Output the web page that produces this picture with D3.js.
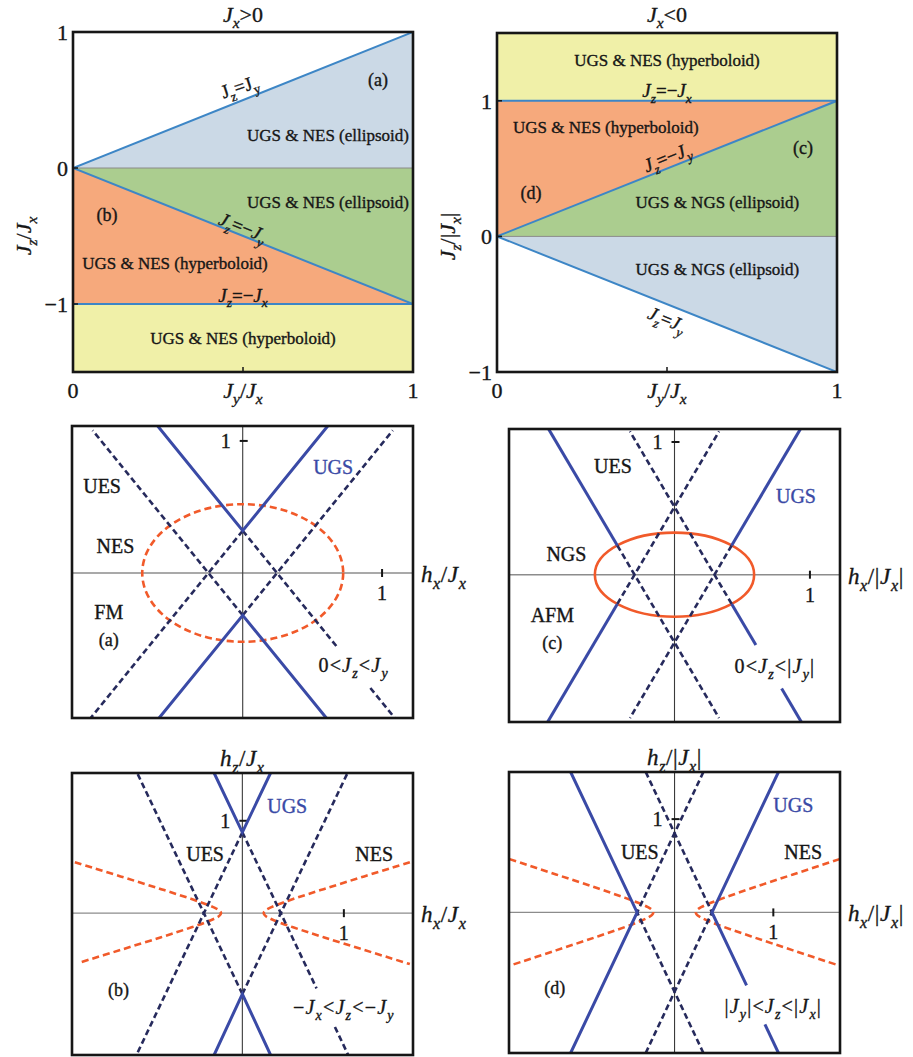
<!DOCTYPE html>
<html>
<head>
<meta charset="utf-8">
<script src="https://cdn.jsdelivr.net/npm/d3@7"></script>
<style>
  html, body { margin: 0; padding: 0; background: #fff; }
  text { font-family: "Liberation Serif", "Times New Roman", "DejaVu Serif", serif; }
</style>
</head>
<body>
<svg id="fig" width="913" height="1057"></svg>
<script>
// ---------------- phase diagrams: J_y/J_x (x) vs J_z/J_x (y) ----------------
const jzTicksPos = [1, 0, -1];
const jzTicksNeg = [1, 0, -1];
const jyTicks = [0, 1];

// J_x > 0 : blue, green, orange, yellow regions
const regionsJxPos = [
  [[0, 0], [1, 1], [1, 0]],
  [[0, 0], [1, 0], [1, -1]],
  [[0, 0], [1, -1], [0, -1]],
  [[0, -1], [1, -1], [1, -1.5], [0, -1.5]]
];
// J_x < 0 : yellow, orange, green, blue regions
const regionsJxNeg = [
  [[0, 1], [1, 1], [1, 1.5], [0, 1.5]],
  [[0, 0], [0, 1], [1, 1]],
  [[0, 0], [1, 1], [1, 0]],
  [[0, 0], [1, 0], [1, -1]]
];
const boundariesJxPos = [[[0, 0], [1, 1]], [[0, 0], [1, -1]], [[0, -1], [1, -1]]];
const boundariesJxNeg = [[[0, 1], [1, 1]], [[0, 0], [1, 1]], [[0, 0], [1, -1]]];
const zeroLine = [[0, 0], [1, 0]];

// ---------------- field planes: h_x (x) vs h_z (y) ----------------
// (a)  0 < J_z < J_y
const ugsA = [
  [[-0.61, 1.113], [0, 0.32], [0.61, 1.113]],
  [[-0.6, -1.098], [0, -0.32], [0.6, -1.098]]
];
const uesA = [
  [[0, 0.32], [0.677, -0.56]],
  [[0.916, -0.871], [1.091, -1.098]],
  [[0, 0.32], [-1.091, -1.098]],
  [[0, -0.32], [1.077, 1.08]],
  [[0, -0.32], [-1.077, 1.08]]
];
const nesEllipseA = [0.721, 0.521];

// (c)  0 < J_z < |J_y|
const ugsC = [
  [[-0.929, 1.097], [-0.422, 0.22]],
  [[0.929, 1.097], [0.422, 0.22]],
  [[-0.422, -0.22], [-0.937, -1.111]],
  [[0.422, -0.22], [0.601, -0.53]],
  [[0.791, -0.858], [0.937, -1.111]]
];
const uesC = [
  [[-0.422, 0.22], [0.329, -1.08]],
  [[0.422, 0.22], [-0.329, -1.08]],
  [[-0.422, -0.22], [0.329, 1.08]],
  [[0.422, -0.22], [-0.329, 1.08]]
];
const ngsEllipseC = [0.588, 0.317];

// (b)  -J_x < J_z < -J_y
const ugsB = [
  [[-0.278, 1.517], [0, 0.875], [0.278, 1.517]],
  [[-0.278, -1.535], [0, -0.875], [0.278, -1.535]]
];
const uesB = [
  [[0, 0.875], [0.731, -0.814]],
  [[0.912, -1.232], [1.043, -1.535]],
  [[0, 0.875], [-1.043, -1.535]],
  [[0, -0.875], [1.036, 1.517]],
  [[0, -0.875], [-1.036, 1.517]]
];
const nesHyperbolaB = [
  [[1.65, 0.551], [1.2, 0.398], [0.8, 0.26], [0.5, 0.153], [0.35, 0.094], [0.27, 0.057], [0.23, 0.032],
   [0.21, 0], [0.23, -0.032], [0.27, -0.057], [0.35, -0.094], [0.5, -0.153], [0.8, -0.26], [1.2, -0.398], [1.65, -0.551]],
  [[-1.65, 0.551], [-1.2, 0.398], [-0.8, 0.26], [-0.5, 0.153], [-0.35, 0.094], [-0.27, 0.057], [-0.23, 0.032],
   [-0.21, 0], [-0.23, -0.032], [-0.27, -0.057], [-0.35, -0.094], [-0.5, -0.153], [-0.8, -0.26], [-1.2, -0.398], [-1.6, -0.534]]
];

// (d)  |J_y| < J_z < |J_x|
const ugsD = [
  [[-1.052, 1.505], [-0.379, 0], [-1.052, -1.507]],
  [[1.052, 1.505], [0.379, 0], [0.729, -0.783]],
  [[0.915, -1.2], [1.052, -1.507]]
];
const uesD = [
  [[-0.292, 1.505], [0.379, 0]],
  [[0.292, 1.505], [-0.379, 0]],
  [[-0.292, -1.507], [0.379, 0]],
  [[0.292, -1.507], [-0.379, 0]]
];
const nesHyperbolaD = [
  [[1.67, 0.571], [1.2, 0.407], [0.8, 0.266], [0.5, 0.156], [0.35, 0.095], [0.27, 0.056], [0.23, 0.028],
   [0.215, 0], [0.23, -0.028], [0.27, -0.056], [0.35, -0.095], [0.5, -0.156], [0.8, -0.266], [1.2, -0.407], [1.67, -0.571]],
  [[-1.67, 0.571], [-1.2, 0.407], [-0.8, 0.266], [-0.5, 0.156], [-0.35, 0.095], [-0.27, 0.056], [-0.23, 0.028],
   [-0.215, 0], [-0.23, -0.028], [-0.27, -0.056], [-0.35, -0.095], [-0.5, -0.156], [-0.8, -0.266], [-1.2, -0.407], [-1.67, -0.571]]
];
const hTicks = [1];

// ---------------- styling ----------------
const regionFillPos = ["#cbd9e6", "#abcd8f", "#f6a97c", "#f0f0a8"];
const regionFillNeg = ["#f0f0a8", "#f6a97c", "#abcd8f", "#cbd9e6"];
const C = {
  boundary: "#3d86c6",
  ugs: "#3a4aa6",
  ues: "#262a5c",
  nes: "#f15a2a",
  ink: "#161616"
};

const svg = d3.select("#fig");
let clipId = 0;

// text with italic letters and "_c" subscripts
function richText(g, x, y, s, size, o = {}) {
  const fill = o.fill || C.ink;
  const t = g.append("text")
    .attr("x", x).attr("y", y + size * 0.35)
    .attr("font-size", size)
    .attr("text-anchor", o.anchor || "middle")
    .attr("fill", fill).attr("stroke", fill).attr("stroke-width", 0.35);
  if (o.rotate) t.attr("transform", `rotate(${o.rotate},${x},${y})`);
  if (o.spacing) t.attr("letter-spacing", o.spacing);
  const shift = size * 0.3;
  let lowered = false;
  for (let i = 0; i < s.length; i++) {
    let ch = s[i], sub = false;
    if (ch === "_") { sub = true; ch = s[++i]; }
    const span = t.append("tspan").text(ch);
    if (/[A-Za-z]/.test(ch) && o.italic !== false) span.attr("font-style", "italic");
    if (sub) {
      span.attr("font-size", size * 0.7);
      if (!lowered) { span.attr("dy", shift); lowered = true; }
    } else if (lowered) {
      span.attr("dy", -shift); lowered = false;
    }
  }
  return t;
}
function plainText(g, x, y, s, size, o = {}) {
  const fill = o.fill || C.ink;
  const t = g.append("text")
    .attr("x", x).attr("y", y + size * 0.35)
    .attr("font-size", size)
    .attr("text-anchor", o.anchor || "middle")
    .attr("fill", fill).attr("stroke", fill).attr("stroke-width", 0.35)
    .text(s);
  if (o.spacing) t.attr("letter-spacing", o.spacing);
  return t;
}

function makePanel(box, xDom, yDom) {
  const x = d3.scaleLinear(xDom, [box[0], box[1]]);
  const y = d3.scaleLinear(yDom, [box[3], box[2]]);
  const g = svg.append("g");
  const id = "clip" + (clipId++);
  g.append("clipPath").attr("id", id).append("rect")
    .attr("x", box[0]).attr("y", box[2])
    .attr("width", box[1] - box[0]).attr("height", box[3] - box[2]);
  const inner = g.append("g").attr("clip-path", `url(#${id})`);
  const line = d3.line().x(d => x(d[0])).y(d => y(d[1]));
  return { x, y, g, inner, line, box };
}

function frame(p) {
  p.g.append("rect")
    .attr("x", p.box[0]).attr("y", p.box[2])
    .attr("width", p.box[1] - p.box[0]).attr("height", p.box[3] - p.box[2])
    .attr("fill", "none").attr("stroke", C.ink).attr("stroke-width", 2.6);
}

// ---------------- phase diagram panels ----------------
function phasePanel(box, yDom, regions, fills, bounds, yTicks, title, yLabel, labels) {
  const p = makePanel(box, [0, 1], yDom);
  p.inner.selectAll("path.region").data(regions).join("path")
    .attr("class", "region")
    .attr("d", d => p.line(d) + "Z")
    .attr("fill", (d, i) => fills[i]);
  p.inner.append("path").attr("d", p.line(zeroLine))
    .attr("stroke", "#8a8a8a").attr("stroke-width", 1).attr("fill", "none");
  p.inner.selectAll("path.bnd").data(bounds).join("path")
    .attr("class", "bnd").attr("d", p.line)
    .attr("stroke", C.boundary).attr("stroke-width", 2).attr("fill", "none");
  frame(p);

  // axis ticks and numbers
  const ax = p.g.append("g");
  ax.selectAll("line.yt").data(yTicks).join("line").attr("class", "yt")
    .attr("x1", box[0]).attr("x2", box[0] + 5)
    .attr("y1", d => p.y(d)).attr("y2", d => p.y(d))
    .attr("stroke", C.ink).attr("stroke-width", 1.5);
  ax.append("line")
    .attr("x1", p.x(0.5)).attr("x2", p.x(0.5))
    .attr("y1", box[3]).attr("y2", box[3] - 5)
    .attr("stroke", C.ink).attr("stroke-width", 1.5);
  yTicks.forEach(v => plainText(ax, box[0] - 5, p.y(v), v < 0 ? "\u2212" + Math.abs(v) : String(v), 22, { anchor: "end" }));
  jyTicks.forEach(v => plainText(ax, p.x(v), box[3] + 18, String(v), 22));
  richText(ax, p.x(0.5), box[3] + 18, "J_y/J_x", 22);
  richText(ax, p.x(0.5), 14, title, 22);
  richText(ax, box[0] - 50, (box[2] + box[3]) / 2 + 34, yLabel, 22, { rotate: -90 });

  labels.forEach(l => {
    const px = p.x(l.at[0]), py = p.y(l.at[1]);
    if (l.rich) richText(p.g, px, py, l.t, 19, { rotate: l.rot, italic: l.italic });
    else plainText(p.g, px, py, l.t, l.size || 17);
  });
  return p;
}

const tl = phasePanel([73, 413, 32, 372], [-1.5, 1], regionsJxPos, regionFillPos, boundariesJxPos,
  jzTicksPos, "J_x>0", "J_z/J_x", [
    { t: "J_z=J_y", at: [0.49, 0.6], rich: true, rot: -18, italic: false },
    { t: "(a)", at: [0.897, 0.647], size: 18 },
    { t: "UGS & NES (ellipsoid)", at: [0.75, 0.243] },
    { t: "UGS & NES (ellipsoid)", at: [0.75, -0.25] },
    { t: "(b)", at: [0.1, -0.346], size: 18 },
    { t: "J_z=\u2212J_y", at: [0.5, -0.434], rich: true, rot: 21.8 },
    { t: "UGS & NES (hyperboloid)", at: [0.3, -0.699] },
    { t: "J_z=\u2212J_x", at: [0.5, -0.934], rich: true },
    { t: "UGS & NES (hyperboloid)", at: [0.5, -1.25] }
  ]);

const tr = phasePanel([497, 837, 33, 372], [-1, 1.5], regionsJxNeg, regionFillNeg, boundariesJxNeg,
  jzTicksNeg, "J_x<0", "J_z/|J_x|", [
    { t: "UGS & NES (hyperboloid)", at: [0.5, 1.3] },
    { t: "J_z=\u2212J_x", at: [0.5, 1.076], rich: true },
    { t: "UGS & NES (hyperboloid)", at: [0.32, 0.804] },
    { t: "J_z=\u2212J_y", at: [0.5, 0.585], rich: true, rot: -21.8 },
    { t: "(c)", at: [0.9, 0.652], size: 18 },
    { t: "(d)", at: [0.1, 0.321], size: 18 },
    { t: "UGS & NGS (ellipsoid)", at: [0.648, 0.255] },
    { t: "UGS & NGS (ellipsoid)", at: [0.648, -0.243] },
    { t: "J_z=J_y", at: [0.5, -0.61], rich: true, rot: 21.8 }
  ]);

// ---------------- field plane panels ----------------
function fieldPanel(cfg) {
  const p = makePanel(cfg.box, cfg.xDom, cfg.yDom);
  const [x0, x1, y0, y1] = cfg.box;
  // coordinate axes
  p.inner.append("line").attr("x1", x0).attr("x2", x1)
    .attr("y1", p.y(0)).attr("y2", p.y(0))
    .attr("stroke", "#8c8c8c").attr("stroke-width", 1.4);
  p.inner.append("line").attr("x1", p.x(0)).attr("x2", p.x(0))
    .attr("y1", y0).attr("y2", y1)
    .attr("stroke", "#3a3a3a").attr("stroke-width", 1.1);
  // ticks at 1
  hTicks.forEach(v => {
    p.inner.append("line").attr("x1", p.x(v)).attr("x2", p.x(v))
      .attr("y1", p.y(0) - 4).attr("y2", p.y(0) + 4)
      .attr("stroke", C.ink).attr("stroke-width", 2);
    p.inner.append("line").attr("x1", p.x(0) - 3).attr("x2", p.x(0) + 5)
      .attr("y1", p.y(v)).attr("y2", p.y(v))
      .attr("stroke", C.ink).attr("stroke-width", 2);
  });

  // NES / NGS boundary
  if (cfg.ellipse) {
    p.inner.append("ellipse")
      .attr("cx", p.x(0)).attr("cy", p.y(0))
      .attr("rx", p.x(cfg.ellipse[0]) - p.x(0))
      .attr("ry", p.y(0) - p.y(cfg.ellipse[1]))
      .attr("fill", "none").attr("stroke", C.nes).attr("stroke-width", 2.6)
      .attr("stroke-dasharray", cfg.ellipseDashed ? "7,4" : null);
  }
  if (cfg.hyperbola) {
    const curve = d3.line().x(d => p.x(d[0])).y(d => p.y(d[1])).curve(d3.curveCatmullRom.alpha(0.5));
    p.inner.selectAll("path.hyp").data(cfg.hyperbola).join("path").attr("class", "hyp")
      .attr("d", curve).attr("fill", "none")
      .attr("stroke", C.nes).attr("stroke-width", 2.6).attr("stroke-dasharray", "7,4");
  }
  // UES dashed lines
  p.inner.selectAll("path.ues").data(cfg.ues).join("path").attr("class", "ues")
    .attr("d", p.line).attr("fill", "none")
    .attr("stroke", C.ues).attr("stroke-width", 2.6).attr("stroke-dasharray", "6,3.5");
  // UGS solid lines
  p.inner.selectAll("path.ugs").data(cfg.ugs).join("path").attr("class", "ugs")
    .attr("d", p.line).attr("fill", "none")
    .attr("stroke", C.ugs).attr("stroke-width", 3).attr("stroke-linejoin", "miter");
  frame(p);

  // tick numbers and axis titles
  plainText(p.g, p.x(1), p.y(0) + 20, "1", 20);
  plainText(p.g, p.x(0) - 17, p.y(1), "1", 20);
  richText(p.g, x1 + 8, p.y(0) + 1, cfg.hxLabel, 23, { anchor: "start", spacing: 0.6 });
  if (cfg.hzLabel) richText(p.g, p.x(0), y0 - 15, cfg.hzLabel, 23, { spacing: 0.6 });

  cfg.labels.forEach(l => {
    const px = p.x(l.at[0]), py = p.y(l.at[1]);
    if (l.rich) richText(p.g, px, py, l.t, l.size || 20, { fill: l.fill, spacing: 1.2 });
    else plainText(p.g, px, py, l.t, l.size || 20, { fill: l.fill });
  });
  return p;
}

fieldPanel({
  box: [72, 413, 426, 718], xDom: [-1.225, 1.222], yDom: [-1.098, 1.113],
  ugs: ugsA, ues: uesA, ellipse: nesEllipseA, ellipseDashed: true,
  hxLabel: "h_x/J_x",
  labels: [
    { t: "UES", at: [-1.009, 0.655] },
    { t: "NES", at: [-0.913, 0.201] },
    { t: "FM", at: [-0.961, -0.293] },
    { t: "(a)", at: [-0.961, -0.504], size: 18 },
    { t: "UGS", at: [0.649, 0.806], fill: C.ugs },
    { t: "0<J_z<J_y", at: [0.796, -0.693], rich: true }
  ]
});

fieldPanel({
  box: [509, 840, 429, 722], xDom: [-1.222, 1.222], yDom: [-1.11, 1.098],
  ugs: ugsC, ues: uesC, ellipse: ngsEllipseC, ellipseDashed: false,
  hxLabel: "h_x/|J_x|",
  labels: [
    { t: "UES", at: [-0.454, 0.816] },
    { t: "NGS", at: [-0.798, 0.158] },
    { t: "AFM", at: [-0.902, -0.307] },
    { t: "(c)", at: [-0.902, -0.51], size: 18 },
    { t: "UGS", at: [0.897, 0.595], fill: C.ugs },
    { t: "0<J_z<|J_y|", at: [0.741, -0.691], rich: true }
  ]
});

fieldPanel({
  box: [72, 413, 773, 1055], xDom: [-1.678, 1.681], yDom: [-1.535, 1.517],
  ugs: ugsB, ues: uesB, hyperbola: nesHyperbolaB,
  hxLabel: "h_x/J_x", hzLabel: "h_z/J_x",
  labels: [
    { t: "UGS", at: [0.442, 1.155], fill: C.ugs },
    { t: "UES", at: [-0.367, 0.642] },
    { t: "NES", at: [1.298, 0.642] },
    { t: "(b)", at: [-1.219, -0.831], size: 18 },
    { t: "\u2212J_x<J_z<\u2212J_y", at: [1.0, -1.012], rich: true }
  ]
});

fieldPanel({
  box: [509, 840, 772, 1053], xDom: [-1.676, 1.675], yDom: [-1.507, 1.505],
  ugs: ugsD, ues: uesD, hyperbola: nesHyperbolaD,
  hxLabel: "h_x/|J_x|", hzLabel: "h_z/|J_x|",
  labels: [
    { t: "UGS", at: [1.202, 1.154], fill: C.ugs },
    { t: "UES", at: [-0.352, 0.651] },
    { t: "NES", at: [1.303, 0.651] },
    { t: "(d)", at: [-1.213, -0.807], size: 18 },
    { t: "|J_y|<J_z<|J_x|", at: [0.999, -1.007], rich: true }
  ]
});
</script>
</body>
</html>
